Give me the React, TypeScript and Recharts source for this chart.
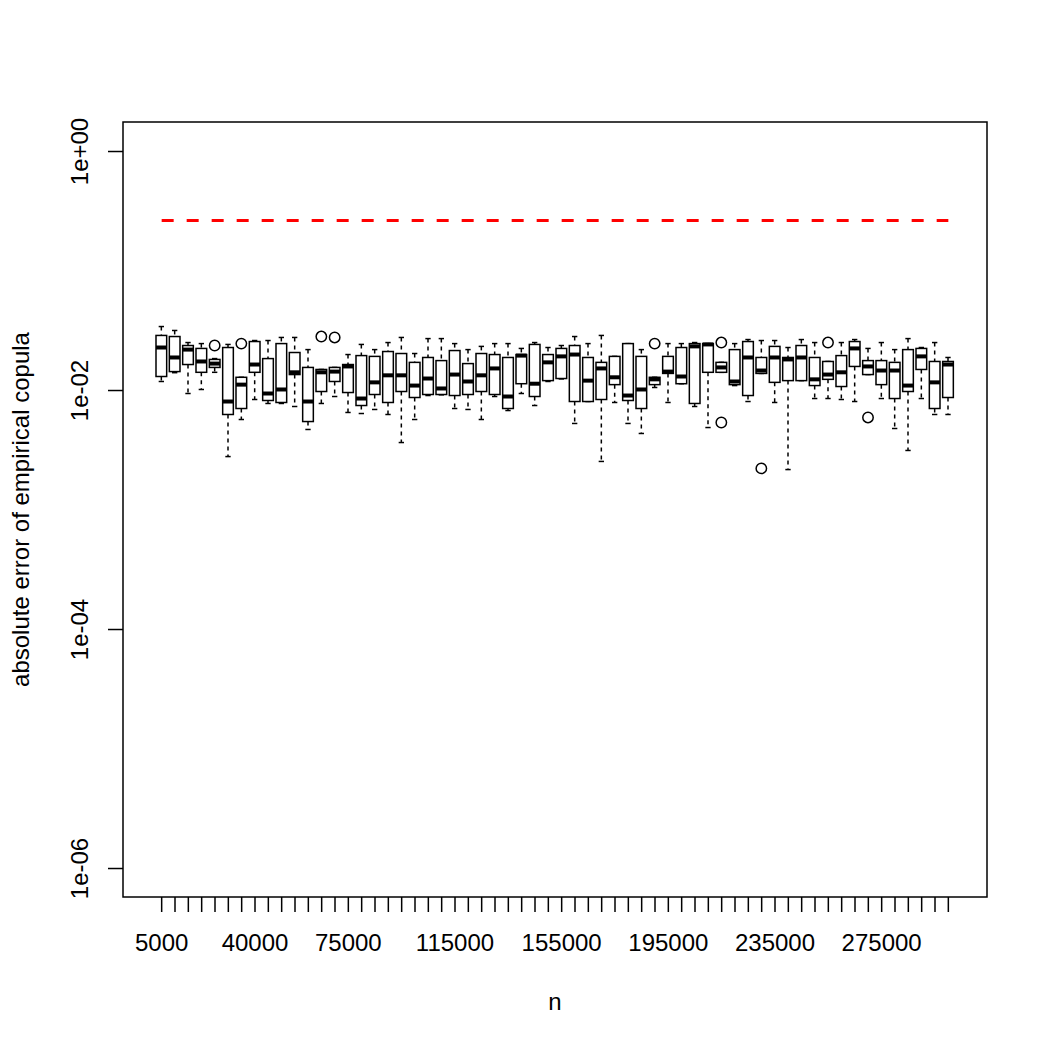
import React from 'react';
import { ComposedChart, Bar, Line, XAxis, YAxis, Label } from 'recharts';

// sample sizes on the x axis
const nValues = [
  5000, 10000, 15000, 20000, 25000, 30000, 35000, 40000, 45000, 50000,
  55000, 60000, 65000, 70000, 75000, 80000, 85000, 90000, 95000, 100000,
  105000, 110000, 115000, 120000, 125000, 130000, 135000, 140000, 145000, 150000,
  155000, 160000, 165000, 170000, 175000, 180000, 185000, 190000, 195000, 200000,
  205000, 210000, 215000, 220000, 225000, 230000, 235000, 240000, 245000, 250000,
  255000, 260000, 265000, 270000, 275000, 280000, 285000, 290000, 295000, 300000,
];

// labels R kept after dropping the overlapping ones
const shownLabels = [5000, 40000, 75000, 115000, 155000, 195000, 235000, 275000];

const lowerWhisker = [
  0.0119, 0.0141, 0.00944, 0.0102, 0.0142, 0.0028, 0.00572, 0.00841, 0.00779, 0.00779,
  0.00735, 0.00472, 0.00779, 0.00891, 0.00655, 0.00642, 0.00694, 0.0063, 0.00367, 0.00572,
  0.00908, 0.0092, 0.00707, 0.00694, 0.00572, 0.00891, 0.0068, 0.00944, 0.00749, 0.0119,
  0.0125, 0.0053, 0.00809, 0.00255, 0.00794, 0.0053, 0.00437, 0.0106, 0.00794, 0.0114,
  0.00735, 0.0049, 0.0142, 0.011, 0.00809, 0.0139, 0.00794, 0.00218, 0.0121, 0.00857,
  0.00857, 0.00841, 0.00809, 0.0136, 0.00857, 0.00481, 0.00315, 0.00857, 0.0063, 0.0063,
];

const lowerQuartile = [
  0.0131, 0.0144, 0.0165, 0.0142, 0.0156, 0.0063, 0.00707, 0.0142, 0.00825, 0.00794,
  0.0136, 0.0055, 0.00981, 0.0119, 0.00962, 0.00749, 0.00926, 0.00794, 0.00981, 0.00874,
  0.00926, 0.00926, 0.00908, 0.00926, 0.00981, 0.00926, 0.00707, 0.0114, 0.00891, 0.0121,
  0.0126, 0.00809, 0.00809, 0.00841, 0.0112, 0.00825, 0.00707, 0.0112, 0.0139, 0.0114,
  0.00779, 0.0142, 0.0142, 0.0112, 0.00908, 0.0139, 0.0117, 0.0121, 0.0121, 0.011,
  0.0124, 0.0108, 0.0159, 0.0136, 0.0112, 0.00857, 0.00981, 0.015, 0.00707, 0.00874,
];

const medians = [
  0.0229, 0.0189, 0.022, 0.0175, 0.0168, 0.00809, 0.0112, 0.0165, 0.00944, 0.0102,
  0.0142, 0.00809, 0.0142, 0.0144, 0.0159, 0.00857, 0.0117, 0.0134, 0.0134, 0.011,
  0.0126, 0.0104, 0.0136, 0.0119, 0.0134, 0.0153, 0.00891, 0.0196, 0.0114, 0.0172,
  0.0193, 0.02, 0.0121, 0.0153, 0.0129, 0.00908, 0.0102, 0.0124, 0.0144, 0.0131,
  0.0234, 0.0243, 0.0156, 0.0119, 0.0189, 0.0147, 0.0189, 0.0182, 0.0189, 0.0124,
  0.0136, 0.0142, 0.0225, 0.0159, 0.0147, 0.0147, 0.011, 0.0193, 0.0117, 0.0165,
];

const upperQuartile = [
  0.0289, 0.0283, 0.0238, 0.0225, 0.0182, 0.0229, 0.0129, 0.0257, 0.0185, 0.0247,
  0.0208, 0.0156, 0.015, 0.0156, 0.0165, 0.0196, 0.0193, 0.0212, 0.0204, 0.0172,
  0.0189, 0.0178, 0.0216, 0.0168, 0.0204, 0.02, 0.0189, 0.02, 0.0243, 0.02,
  0.0225, 0.0238, 0.0189, 0.0172, 0.0193, 0.0247, 0.0193, 0.0129, 0.0193, 0.0229,
  0.0247, 0.0247, 0.0172, 0.022, 0.0257, 0.0189, 0.0234, 0.0189, 0.0238, 0.0189,
  0.0175, 0.0196, 0.0257, 0.0178, 0.0178, 0.0172, 0.022, 0.0225, 0.0175, 0.0175,
];

const upperWhisker = [
  0.0343, 0.0318, 0.0252, 0.0247, 0.0185, 0.0243, 0.0129, 0.0262, 0.0262, 0.0278,
  0.0278, 0.022, 0.015, 0.0156, 0.02, 0.0243, 0.022, 0.0252, 0.0278, 0.0204,
  0.0272, 0.0272, 0.0247, 0.022, 0.0234, 0.0247, 0.0247, 0.0225, 0.0252, 0.0229,
  0.0238, 0.0283, 0.0247, 0.0289, 0.0193, 0.0247, 0.022, 0.0129, 0.0247, 0.0247,
  0.0252, 0.0247, 0.0172, 0.0247, 0.0267, 0.0262, 0.0262, 0.0229, 0.0267, 0.0252,
  0.0175, 0.0252, 0.0267, 0.0225, 0.0252, 0.022, 0.0272, 0.0229, 0.0252, 0.0189,
];

const outlierPoints = [
  { n: 25000, value: 0.0238 },
  { n: 35000, value: 0.0247 },
  { n: 65000, value: 0.0283 },
  { n: 70000, value: 0.0278 },
  { n: 190000, value: 0.0247 },
  { n: 215000, value: 0.0252 },
  { n: 215000, value: 0.0054 },
  { n: 230000, value: 0.00223 },
  { n: 255000, value: 0.0252 },
  { n: 270000, value: 0.00595 },
];

// theoretical error bound (red dashed line)
const errorBound = 0.265;

const yTicks = [1e-6, 1e-4, 1e-2, 1];
const yTickLabels = ['1e-06', '1e-04', '1e-02', '1e+00'];

const data = nValues.map((n, i) => ({
  n,
  lw: lowerWhisker[i],
  q1: lowerQuartile[i],
  med: medians[i],
  q3: upperQuartile[i],
  uw: upperWhisker[i],
  outliers: outlierPoints.filter((o) => o.n === n).map((o) => o.value),
  bound: errorBound,
}));

const FONT = '"Liberation Sans", Arial, Helvetica, sans-serif';
const INK = '#000';
const LW = 1.5;

// The bar spans lw..uw on the log axis; the other statistics are placed
// inside it in log space, which is how the log scale maps them.
const BoxShape = (props: any) => {
  const { x, y, width, height, payload } = props;
  const { lw, q1, med, q3, uw, outliers } = payload;
  const top = Math.log10(uw);
  const bottom = Math.log10(lw);
  const span = top - bottom || 1e-9;
  const py = (v: number) => y + (height * (top - Math.log10(v))) / span;
  const cx = x + width / 2;
  const cap = width / 4;
  return (
    <g>
      <line x1={cx} x2={cx} y1={py(uw)} y2={py(q3)} stroke={INK} strokeWidth={LW} strokeDasharray="4 4" />
      <line x1={cx} x2={cx} y1={py(q1)} y2={py(lw)} stroke={INK} strokeWidth={LW} strokeDasharray="4 4" />
      <line x1={cx - cap} x2={cx + cap} y1={py(uw)} y2={py(uw)} stroke={INK} strokeWidth={LW} />
      <line x1={cx - cap} x2={cx + cap} y1={py(lw)} y2={py(lw)} stroke={INK} strokeWidth={LW} />
      <rect x={x} y={py(q3)} width={width} height={py(q1) - py(q3)} fill="#fff" stroke={INK} strokeWidth={LW} />
      <line x1={x} x2={x + width} y1={py(med)} y2={py(med)} stroke={INK} strokeWidth={4} />
      {outliers.map((v: number, k: number) => (
        <circle key={k} cx={cx} cy={py(v)} r={5.2} fill="none" stroke={INK} strokeWidth={LW} />
      ))}
    </g>
  );
};

const XTick = (props: any) => {
  const { x, y, payload } = props;
  if (!shownLabels.includes(payload.value)) return <g />;
  return (
    <text x={x} y={y + 37} textAnchor="middle" fontSize={24} fontFamily={FONT} fill={INK}>
      {payload.value}
    </text>
  );
};

const YTick = (props: any) => {
  const { x, y, payload } = props;
  const idx = yTicks.findIndex((t) => Math.abs(Math.log10(t) - Math.log10(payload.value)) < 1e-6);
  const tx = x - 18;
  return (
    <text x={tx} y={y} transform={`rotate(-90 ${tx} ${y})`} textAnchor="middle" fontSize={24} fontFamily={FONT} fill={INK}>
      {idx >= 0 ? yTickLabels[idx] : ''}
    </text>
  );
};

export default function App() {
  return (
    <div style={{ position: 'absolute', left: 0, top: 0, width: 1050, height: 1050, background: '#fff' }}>
      <ComposedChart
        width={1050}
        height={1050}
        data={data}
        margin={{ top: 122, right: 63, bottom: 93, left: 63 }}
        style={{ fontFamily: FONT }}
      >
        <XAxis
          dataKey="n"
          type="category"
          interval={0}
          padding={{ left: 32, right: 32 }}
          height={60}
          tickSize={15}
          axisLine={false}
          tickLine={{ stroke: INK, strokeWidth: LW }}
          tick={<XTick />}
        >
          <Label
            content={({ viewBox }: any) => (
              <text
                x={viewBox.x + viewBox.width / 2}
                y={viewBox.y + 113}
                textAnchor="middle"
                fontSize={24}
                fontFamily={FONT}
                fill={INK}
              >
                n
              </text>
            )}
          />
        </XAxis>
        <YAxis
          type="number"
          scale="log"
          domain={[5.776e-7, 1.7659]}
          allowDataOverflow
          ticks={yTicks}
          width={60}
          tickSize={15}
          axisLine={false}
          tickLine={{ stroke: INK, strokeWidth: LW }}
          tick={<YTick />}
        >
          <Label
            content={({ viewBox }: any) => {
              const tx = viewBox.x - 34;
              const ty = viewBox.y + viewBox.height / 2;
              return (
                <text
                  x={tx}
                  y={ty}
                  transform={`rotate(-90 ${tx} ${ty})`}
                  textAnchor="middle"
                  fontSize={24}
                  fontFamily={FONT}
                  fill={INK}
                >
                  absolute error of empirical copula
                </text>
              );
            }}
          />
        </YAxis>
        <Bar
          dataKey={(d: any) => [d.lw, d.uw]}
          barSize={10.67}
          shape={<BoxShape />}
          isAnimationActive={false}
        />
        <Line
          dataKey="bound"
          stroke="#ff0000"
          strokeWidth={3}
          strokeDasharray="12 13"
          dot={false}
          isAnimationActive={false}
        />
      </ComposedChart>
      <svg
        width={1050}
        height={1050}
        style={{ position: 'absolute', left: 0, top: 0, pointerEvents: 'none' }}
      >
        <rect x={123} y={122} width={864} height={775} fill="none" stroke={INK} strokeWidth={LW} />
      </svg>
    </div>
  );
}
